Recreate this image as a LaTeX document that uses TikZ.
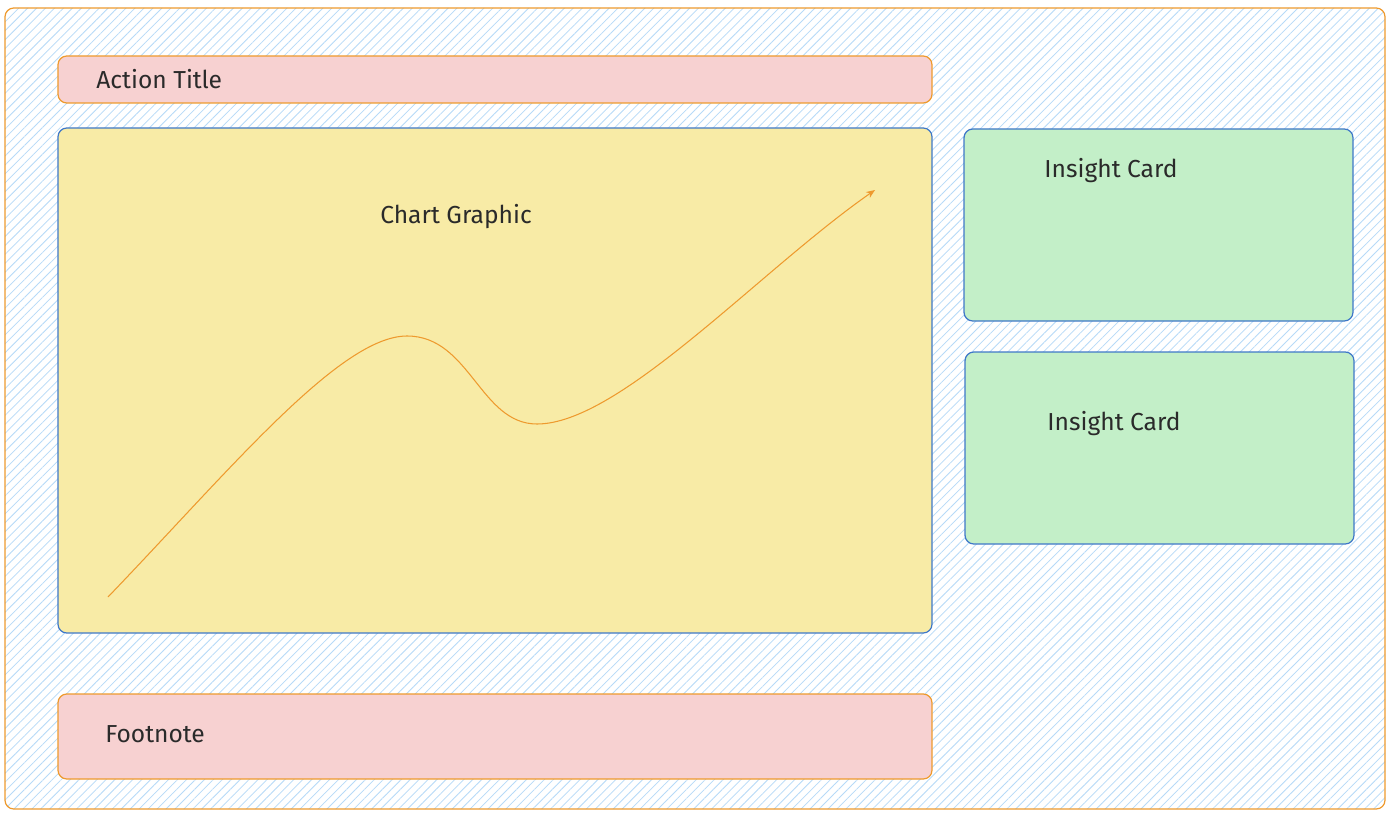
\documentclass[tikz,border=0pt]{standalone}
\usepackage{fontspec}
\setmainfont{Fira Sans}
\usepackage{tikz}
\usetikzlibrary{positioning,arrows.meta,fit,patterns.meta}

\definecolor{framestroke}{HTML}{EE9A2E}
\definecolor{boxstroke}{HTML}{3F78C8}
\definecolor{hatch}{HTML}{B6DAF8}
\definecolor{pinkfill}{HTML}{F7D1D1}
\definecolor{yellowfill}{HTML}{F8EBA6}
\definecolor{greenfill}{HTML}{C3EFC8}
\definecolor{inkgray}{HTML}{2A2A2A}

\begin{document}
\begin{tikzpicture}[
    x=0.02cm, y=-0.02cm,
    panel/.style={draw, rounded corners=5pt, line width=0.7pt, inner sep=0pt},
    slate/.style={panel, draw=framestroke, preaction={fill=white},
                  pattern={Lines[angle=45, distance=3.6pt, line width=0.45pt]},
                  pattern color=hatch},
    banner/.style={panel, draw=framestroke, fill=pinkfill},
    chartbox/.style={panel, draw=boxstroke, fill=yellowfill},
    cardbox/.style={panel, draw=boxstroke, fill=greenfill},
    lbl/.style={font=\fontsize{14}{16}\selectfont, text=inkgray, inner sep=0pt},
    trend/.style={-{Stealth[length=5pt, width=4pt]}, draw=framestroke, line width=0.6pt},
]
\useasboundingbox (0,0) rectangle (1388,814);

% slide frame
\node[slate, fit={(5,8) (1385,809)}] (slide) {};

% left column
\node[banner, fit={(58,56) (932,103)}] (title) {};
\node[lbl, anchor=west] (titletxt) at (96,79) {Action Title};

\node[chartbox, fit={(58,128) (932,633)}] (chart) {};
\node[lbl] (charttxt) at (456,217) {Chart Graphic};

\node[banner, fit={(58,694) (932,779)}] (foot) {};
\node[lbl, anchor=west] (foottxt) at (105,734) {Footnote};

% right column
\node[cardbox, fit={(964,129) (1353,321)}] (card1) {};
\node[lbl] (card1txt) at (1111,171) {Insight Card};

\node[cardbox, fit={(965,352) (1354,544)}] (card2) {};
\node[lbl] (card2txt) at (1114,424) {Insight Card};

% trend line in chart
\coordinate (tstart) at (108,597);
\coordinate (tpeak) at (407,336);
\coordinate (tdip) at (537,424);
\coordinate (tend) at (875,190);
\draw[trend] (tstart) .. controls (230,470) and (340,336) .. (tpeak)
    .. controls (470,336) and (480,424) .. (tdip)
    .. controls (620,424) and (760,270) .. (tend);
\end{tikzpicture}
\end{document}
